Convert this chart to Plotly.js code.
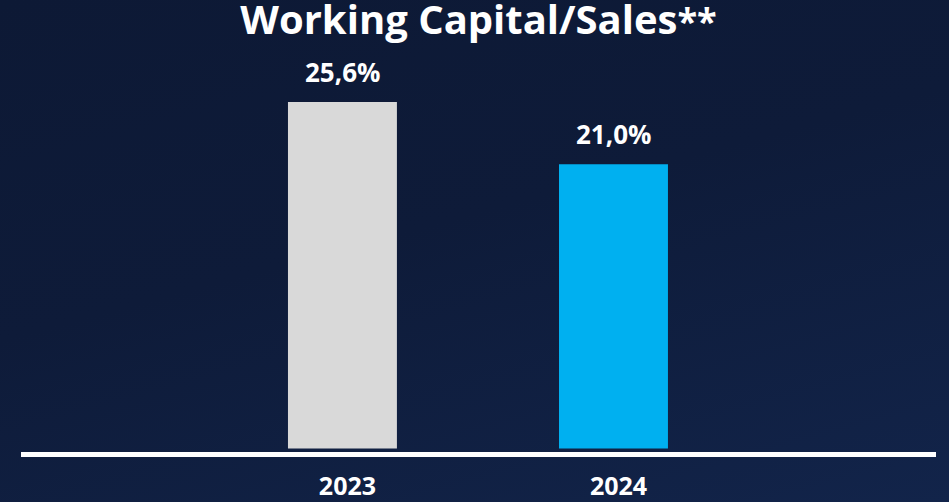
<!DOCTYPE html>
<html>
<head>
<meta charset="utf-8">
<script src="https://cdn.plot.ly/plotly-3.0.1.min.js"></script>
<style>
  html, body { margin: 0; padding: 0; width: 949px; height: 502px; overflow: hidden;
    background: linear-gradient(165deg, #0d1935 0%, #0e1b39 45%, #12244a 100%); }
  #chart { width: 949px; height: 502px; }
</style>
</head>
<body>
<div id="chart"></div>
<script>
const categories = ['2023', '2024'];
const values = [25.6, 21.0];
const barColors = ['#d9d9d9', '#00b0f0'];
const titleMain = 'Working Capital/Sales';
const titleMark = '**';

const fontFamily = '"Open Sans", "Noto Sans", sans-serif';

const fmt = v => v.toFixed(1).replace('.', ',') + '%';

const trace = {
  type: 'bar',
  x: categories,
  y: values,
  width: 0.402,
  marker: { color: barColors, line: { width: 0 } },
  hoverinfo: 'skip'
};

const annotations = categories.map((c, i) => ({
  x: i, y: values[i], xref: 'x', yref: 'y',
  text: '<b>' + fmt(values[i]) + '</b>',
  showarrow: false, yanchor: 'bottom', yshift: 10,
  font: { family: fontFamily, size: 26, color: '#ffffff' }
}));

const layout = {
  width: 949, height: 502,
  margin: { l: 21, r: 13, t: 60, b: 50 },
  paper_bgcolor: 'rgba(0,0,0,0)',
  plot_bgcolor: 'rgba(0,0,0,0)',
  showlegend: false,
  title: {
    text: '<b>' + titleMain + '<span style="font-size:36px">' + titleMark + '</span></b>',
    x: 0.5, xanchor: 'center', xref: 'paper',
    y: 0.961, yanchor: 'middle', yref: 'container',
    font: { family: fontFamily, size: 40, color: '#ffffff' }
  },
  xaxis: {
    type: 'category',
    range: [-1.186, 2.19],
    showgrid: false, zeroline: false,
    showline: true, linecolor: '#ffffff', linewidth: 5,
    ticks: '', ticklabelshift: 5, ticklabelstandoff: 8,
    tickfont: { family: fontFamily, size: 25, color: '#ffffff', weight: 'bold' },
    fixedrange: true
  },
  yaxis: {
    range: [-0.26, 28.7],
    showgrid: false, zeroline: false, showline: false,
    showticklabels: false, ticks: '',
    fixedrange: true
  },
  annotations: annotations
};

Plotly.newPlot('chart', [trace], layout, { displayModeBar: false, staticPlot: true });
</script>
</body>
</html>
